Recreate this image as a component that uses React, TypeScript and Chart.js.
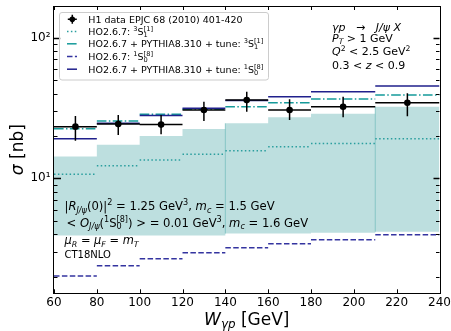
import React, { useEffect, useRef } from 'react';
import { Chart, registerables } from 'chart.js';

Chart.register(...registerables);

const FONT = '"DejaVu Sans", sans-serif';

// ---------- data ----------
const binEdges = [60, 80, 100, 120, 140, 160, 180, 210, 240];
const dataX = [70, 90, 110, 130, 150, 170, 195, 225];
const dataY = [23.3, 24.3, 24.1, 30.6, 36.0, 30.6, 32.3, 34.5];
const dataErrHigh = [27.7, 28.2, 28.2, 35.1, 41.3, 36.5, 38.0, 40.3];
const dataErrLow = [18.5, 20.3, 20.6, 25.6, 29.8, 26.0, 27.2, 27.6];
const ho3S1 = [10.7, 12.3, 13.5, 14.8, 15.7, 16.8, 17.7, 19.1];
const hoPy3S1 = [22.5, 25.6, 28.5, 31.0, 32.3, 34.5, 36.6, 39.1];
const ho1S0 = [2.02, 2.39, 2.68, 2.96, 3.21, 3.43, 3.66, 3.97];
const hoPy1S0 = [19.1, 24.6, 28.0, 31.5, 35.7, 38.0, 41.3, 45.3];
const bandLow = [3.92, 3.92, 3.92, 3.92, 4.05, 4.05, 4.1, 4.17];
const bandHigh = [14.3, 17.3, 20.0, 22.4, 24.6, 27.2, 28.8, 32.3];
const bandSeamEdges = [140, 210];

const xTickValues = [60, 80, 100, 120, 140, 160, 180, 200, 220, 240];
const yMajorTicks = [10, 100];
const yMajorLabels = ['10¹', '10²'];
const yMinorMantissa = [2, 3, 4, 5, 6, 7, 8, 9];
const yDecades = [1, 10, 100];
const yMin = 1.521;
const yMax = 168.1;

// ---------- colours ----------
const TEAL_DOT = '#2a9e9e';
const TEAL_DD = '#159a9a';
const NAVY_SOLID = '#20208c';
const NAVY_DASH = '#3434a0';
const BAND = 'rgb(189,223,223)';

type Run = { t?: string; it?: boolean; sc?: 'sub' | 'sup'; sub?: string; sup?: string };

const legendRows: Run[][] = [
  [{ t: 'H1 data EPJC 68 (2010) 401-420' }],
  [{ t: 'HO2.6.7: ' }, { t: '3', sc: 'sup' }, { t: 'S' }, { sub: '1', sup: '[1]' }],
  [{ t: 'HO2.6.7 + PYTHIA8.310 + tune: ' }, { t: '3', sc: 'sup' }, { t: 'S' }, { sub: '1', sup: '[1]' }],
  [{ t: 'HO2.6.7: ' }, { t: '1', sc: 'sup' }, { t: 'S' }, { sub: '0', sup: '[8]' }],
  [{ t: 'HO2.6.7 + PYTHIA8.310 + tune: ' }, { t: '1', sc: 'sup' }, { t: 'S' }, { sub: '0', sup: '[8]' }],
];

const topRightLines: Run[][] = [
  [{ t: 'γp', it: true }, { t: '   →   ' }, { t: 'J/ψ X', it: true }],
  [{ t: 'P', it: true }, { t: 'T', it: true, sc: 'sub' }, { t: ' > 1 GeV' }],
  [{ t: 'Q', it: true }, { t: '2', sc: 'sup' }, { t: ' < 2.5 GeV' }, { t: '2', sc: 'sup' }],
  [{ t: '0.3 < ' }, { t: 'z', it: true }, { t: ' < 0.9' }],
];

const bottomLeftLines: Run[][] = [
  [
    { t: '|' }, { t: 'R', it: true }, { t: 'J/ψ', it: true, sc: 'sub' }, { t: '(0)|' }, { t: '2', sc: 'sup' },
    { t: ' = 1.25 GeV' }, { t: '3', sc: 'sup' }, { t: ', ' }, { t: 'm', it: true }, { t: 'c', it: true, sc: 'sub' },
    { t: ' = 1.5 GeV' },
  ],
  [
    { t: '< ' }, { t: 'O', it: true }, { t: 'J/ψ', it: true, sc: 'sub' }, { t: '(' }, { t: '1', sc: 'sup' }, { t: 'S' },
    { sub: '0', sup: '[8]' }, { t: ') > = 0.01 GeV' }, { t: '3', sc: 'sup' }, { t: ', ' }, { t: 'm', it: true },
    { t: 'c', it: true, sc: 'sub' }, { t: ' = 1.6 GeV' },
  ],
  [
    { t: 'μ', it: true }, { t: 'R', it: true, sc: 'sub' }, { t: ' = ' }, { t: 'μ', it: true }, { t: 'F', it: true, sc: 'sub' },
    { t: ' = ' }, { t: 'm', it: true }, { t: 'T', it: true, sc: 'sub' },
  ],
  [{ t: 'CT18NLO' }],
];

// ---------- helpers ----------
function segments(vals: number[]) {
  const out: { x: number; y: number | null }[] = [];
  vals.forEach((v, i) => {
    out.push({ x: binEdges[i], y: v }, { x: binEdges[i + 1], y: v }, { x: binEdges[i + 1], y: null });
  });
  return out;
}
function steps(vals: number[]) {
  const out = vals.map((v, i) => ({ x: binEdges[i], y: v }));
  out.push({ x: binEdges[binEdges.length - 1], y: vals[vals.length - 1] });
  return out;
}

function drawRich(ctx: CanvasRenderingContext2D, runs: Run[], x: number, y: number, size: number) {
  let cx = x;
  ctx.textBaseline = 'alphabetic';
  ctx.textAlign = 'left';
  for (const r of runs) {
    if (r.sub !== undefined || r.sup !== undefined) {
      const s = size * 0.7;
      ctx.font = `${s}px ${FONT}`;
      const w1 = ctx.measureText(r.sub || '').width;
      const w2 = ctx.measureText(r.sup || '').width;
      ctx.fillText(r.sup || '', cx, y - size * 0.42);
      ctx.fillText(r.sub || '', cx, y + size * 0.22);
      cx += Math.max(w1, w2);
      continue;
    }
    const s = r.sc ? size * 0.7 : size;
    ctx.font = `${r.it ? 'italic ' : ''}${s}px ${FONT}`;
    const dy = r.sc === 'sup' ? -size * 0.42 : r.sc === 'sub' ? size * 0.22 : 0;
    ctx.fillText(r.t || '', cx, y + dy);
    cx += ctx.measureText(r.t || '').width;
  }
  return cx - x;
}
function measureRich(ctx: CanvasRenderingContext2D, runs: Run[], size: number) {
  let w = 0;
  for (const r of runs) {
    if (r.sub !== undefined || r.sup !== undefined) {
      ctx.font = `${size * 0.7}px ${FONT}`;
      w += Math.max(ctx.measureText(r.sub || '').width, ctx.measureText(r.sup || '').width);
      continue;
    }
    const s = r.sc ? size * 0.7 : size;
    ctx.font = `${r.it ? 'italic ' : ''}${s}px ${FONT}`;
    w += ctx.measureText(r.t || '').width;
  }
  return w;
}

const decorPlugin = {
  id: 'decor',
  afterDatasetsDraw(chart: any) {
    const ctx: CanvasRenderingContext2D = chart.ctx;
    const { left, right, top, bottom } = chart.chartArea;
    const xs = chart.scales.x;
    const ys = chart.scales.y;
    ctx.save();
    ctx.strokeStyle = '#000';
    ctx.setLineDash([]);
    ctx.lineWidth = 1;
    for (const v of xTickValues) {
      const px = Math.round(xs.getPixelForValue(v)) + 0.5;
      ctx.beginPath();
      ctx.moveTo(px, bottom); ctx.lineTo(px, bottom - 4);
      ctx.moveTo(px, top); ctx.lineTo(px, top + 4);
      ctx.stroke();
    }
    for (const d of yDecades) {
      for (const m of yMinorMantissa) {
        const v = d * m;
        if (v <= yMin || v >= yMax) continue;
        const py = Math.round(ys.getPixelForValue(v)) + 0.5;
        ctx.beginPath();
        ctx.moveTo(left, py); ctx.lineTo(left + 3.5, py);
        ctx.moveTo(right, py); ctx.lineTo(right - 3.5, py);
        ctx.stroke();
      }
    }
    ctx.lineWidth = 1.3;
    for (const v of yMajorTicks) {
      const py = Math.round(ys.getPixelForValue(v)) + 0.5;
      ctx.beginPath();
      ctx.moveTo(left, py); ctx.lineTo(left + 7, py);
      ctx.moveTo(right, py); ctx.lineTo(right - 6, py);
      ctx.stroke();
    }
    ctx.lineWidth = 1;
    ctx.strokeRect(Math.round(left) - 0.5, Math.round(top) + 0.5, Math.round(right - left) + 1, Math.round(bottom - top));
    ctx.restore();
  },
  afterDraw(chart: any) {
    const ctx: CanvasRenderingContext2D = chart.ctx;
    const { left, right, top, bottom } = chart.chartArea;
    ctx.save();
    // legend box
    const bx = 59.5, by = 12.5, bw = 209, bh = 67.5, r = 2.5;
    ctx.beginPath();
    ctx.moveTo(bx + r, by);
    ctx.lineTo(bx + bw - r, by);
    ctx.quadraticCurveTo(bx + bw, by, bx + bw, by + r);
    ctx.lineTo(bx + bw, by + bh - r);
    ctx.quadraticCurveTo(bx + bw, by + bh, bx + bw - r, by + bh);
    ctx.lineTo(bx + r, by + bh);
    ctx.quadraticCurveTo(bx, by + bh, bx, by + bh - r);
    ctx.lineTo(bx, by + r);
    ctx.quadraticCurveTo(bx, by, bx + r, by);
    ctx.closePath();
    ctx.fillStyle = 'rgba(255,255,255,0.8)';
    ctx.fill();
    ctx.strokeStyle = '#cccccc';
    ctx.lineWidth = 1;
    ctx.stroke();

    const rowsY = [19.3, 31.6, 43.8, 56.5, 69.2];
    const hx0 = 67, hx1 = 77, mx = 72.3;
    const handleStyles = [
      null,
      { c: TEAL_DOT, d: [1.5, 2.4] },
      { c: TEAL_DD, d: [9.6, 2.4, 1.5, 2.4] },
      { c: NAVY_DASH, d: [5.5, 2.4] },
      { c: NAVY_SOLID, d: [] as number[] },
    ];
    rowsY.forEach((ry, i) => {
      const hs = handleStyles[i];
      if (!hs) {
        ctx.strokeStyle = '#000';
        ctx.lineWidth = 1.5;
        ctx.setLineDash([]);
        ctx.beginPath();
        ctx.moveTo(mx, ry - 4.5); ctx.lineTo(mx, ry + 4.5);
        ctx.moveTo(mx - 4.5, ry); ctx.lineTo(mx + 4.5, ry);
        ctx.stroke();
        ctx.fillStyle = '#000';
        ctx.beginPath();
        ctx.arc(mx, ry, 2.8, 0, Math.PI * 2);
        ctx.fill();
      } else {
        ctx.strokeStyle = hs.c;
        ctx.lineWidth = 1.5;
        ctx.setLineDash(hs.d);
        ctx.beginPath();
        ctx.moveTo(hx0, ry); ctx.lineTo(hx1, ry);
        ctx.stroke();
        ctx.setLineDash([]);
      }
      ctx.fillStyle = '#000';
      drawRich(ctx, legendRows[i], 88.3, ry + 3.4, 9.5);
    });

    // annotations
    ctx.fillStyle = '#000';
    const trBase = [30.5, 41.6, 55.4, 69];
    topRightLines.forEach((ln, i) => drawRich(ctx, ln, 332, trBase[i], 11));
    const blBase = [210, 226.8, 244.2, 258.3];
    const blX = [64.5, 66.5, 64.5, 64.5];
    const blSize = [11.6, 11.6, 11.4, 10];
    bottomLeftLines.forEach((ln, i) => drawRich(ctx, ln, blX[i], blBase[i], blSize[i]));

    // axis titles
    const xRuns: Run[] = [{ t: 'W', it: true }, { t: 'γp', it: true, sc: 'sub' }, { t: ' [GeV]' }];
    const xw = measureRich(ctx, xRuns, 17);
    drawRich(ctx, xRuns, (left + right) / 2 - xw / 2, 324.5, 17);

    const yRuns: Run[] = [{ t: 'σ', it: true }, { t: ' [nb]' }];
    const yw = measureRich(ctx, yRuns, 17);
    ctx.translate(22.8, (top + bottom) / 2);
    ctx.rotate(-Math.PI / 2);
    drawRich(ctx, yRuns, -yw / 2, 0, 17);
    ctx.restore();
  },
};

export default function App() {
  const ref = useRef<HTMLCanvasElement>(null);
  useEffect(() => {
    const canvas = ref.current!;
    Chart.defaults.font.family = FONT;
    const lineDs = (label: string, data: any[], color: string, dash: number[], order: number, width = 1.5) => ({
      label,
      data,
      borderColor: color,
      backgroundColor: color,
      borderWidth: width,
      borderDash: dash,
      pointRadius: 0,
      spanGaps: false,
      fill: false,
      order,
    });
    const datasets: any[] = [
      { label: 'bandLow', data: steps(bandLow), stepped: true, borderWidth: 0, pointRadius: 0, fill: false, order: 11, borderColor: 'rgba(0,0,0,0)' },
      { label: 'bandHigh', data: steps(bandHigh), stepped: true, borderWidth: 0, pointRadius: 0, fill: 0, backgroundColor: BAND, borderColor: 'rgba(0,0,0,0)', order: 10 },
      lineDs(
        'seams',
        bandSeamEdges.flatMap((e) => {
          const k = binEdges.indexOf(e);
          return [{ x: e, y: bandLow[k] }, { x: e, y: bandHigh[k] }, { x: e, y: null }];
        }),
        'rgba(110,185,185,0.7)', [], 9, 1,
      ),
      lineDs('HO2.6.7: 3S1[1]', segments(ho3S1), TEAL_DOT, [1.5, 2.4], 5),
      lineDs('HO2.6.7: 1S0[8]', segments(ho1S0), NAVY_DASH, [5.5, 2.4], 4),
      lineDs('HO2.6.7 + PYTHIA8.310 + tune: 3S1[1]', segments(hoPy3S1), TEAL_DD, [9.6, 2.4, 1.5, 2.4], 3),
      lineDs('HO2.6.7 + PYTHIA8.310 + tune: 1S0[8]', segments(hoPy1S0), NAVY_SOLID, [], 2),
      lineDs('xerr', segments(dataY), '#000', [], 1),
      lineDs(
        'yerr',
        dataX.flatMap((x, i) => [{ x, y: dataErrLow[i] }, { x, y: dataErrHigh[i] }, { x, y: null }]),
        '#000', [], 1,
      ),
      {
        label: 'H1 data EPJC 68 (2010) 401-420',
        data: dataX.map((x, i) => ({ x, y: dataY[i] })),
        showLine: false,
        pointRadius: 3.3,
        pointBackgroundColor: '#000',
        pointBorderWidth: 0,
        borderColor: '#000',
        order: 0,
      },
    ];

    const chart = new Chart(canvas, {
      type: 'line',
      data: { datasets },
      options: {
        animation: false,
        responsive: false,
        devicePixelRatio: 1,
        layout: { padding: { left: 0, top: 6, right: 11.5, bottom: 0 } },
        plugins: { legend: { display: false }, tooltip: { enabled: false } },
        elements: { point: { radius: 0 }, line: { tension: 0 } },
        scales: {
          x: {
            type: 'linear',
            min: 60,
            max: 240,
            grid: { display: false, drawTicks: false },
            border: { display: false },
            ticks: {
              stepSize: 20,
              autoSkip: false,
              maxRotation: 0,
              padding: 2,
              color: '#000',
              font: { size: 12, family: FONT },
              callback: (v: any) => (xTickValues.includes(Number(v)) ? String(v) : ''),
            },
            afterFit: (s: any) => {
              s.height = 37.7;
              s.paddingLeft = 0;
              s.paddingRight = 0;
            },
          },
          y: {
            type: 'logarithmic',
            min: yMin,
            max: yMax,
            grid: { display: false, drawTicks: false },
            border: { display: false },
            ticks: {
              autoSkip: false,
              padding: 3.5,
              color: '#000',
              font: { size: 12, family: FONT },
              callback: (v: any) => {
                const idx = yMajorTicks.findIndex((t) => Math.abs(Number(v) - t) < 1e-6);
                return idx >= 0 ? yMajorLabels[idx] : '';
              },
            },
            afterFit: (s: any) => {
              s.width = 54;
              s.paddingTop = 0;
              s.paddingBottom = 0;
            },
          },
        },
      } as any,
      plugins: [decorPlugin],
    });
    return () => chart.destroy();
  }, []);
  return (
    <div style={{ position: 'fixed', left: 0, top: 0, width: 451, height: 331, background: '#fff' }}>
      <canvas ref={ref} width={451} height={331} style={{ display: 'block', width: 451, height: 331 }} />
    </div>
  );
}
